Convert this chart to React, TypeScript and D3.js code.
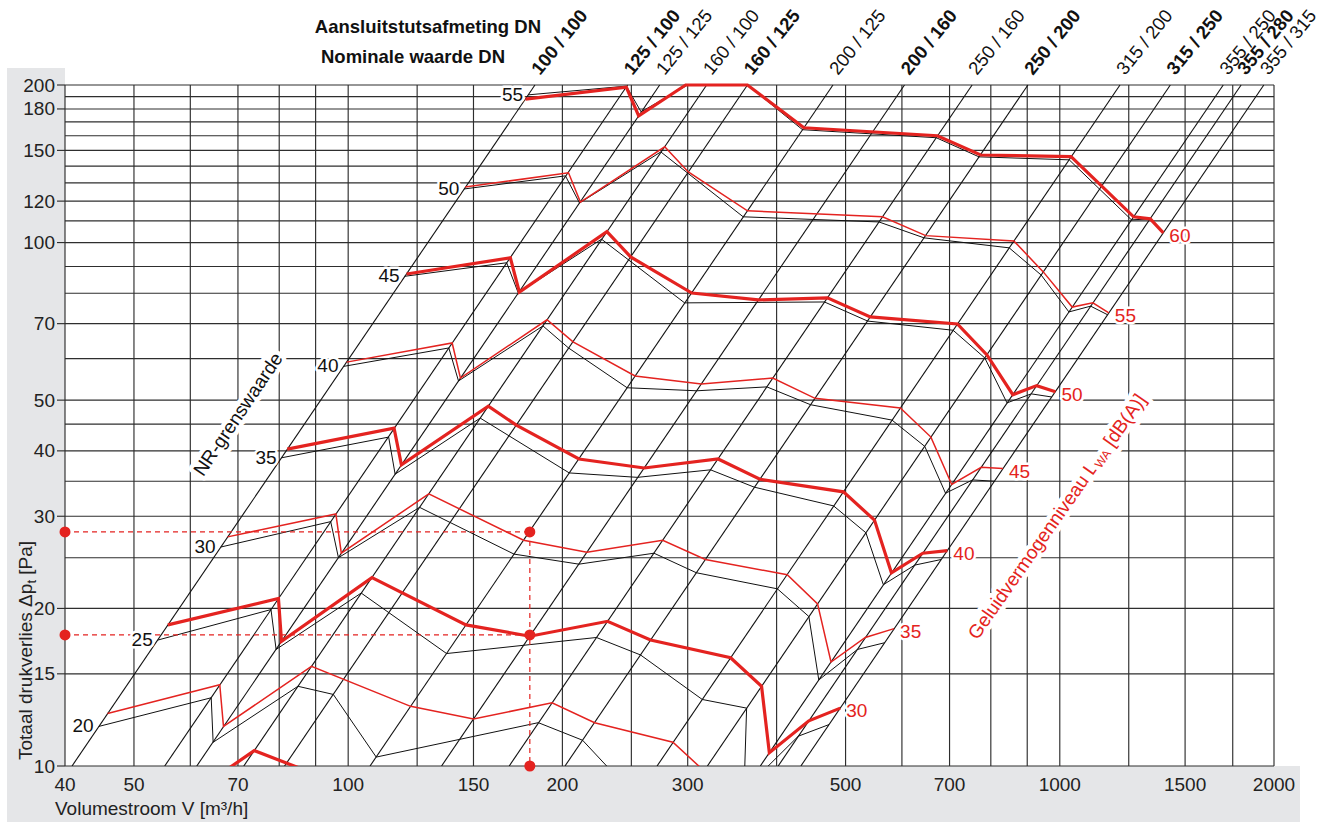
import React from "react";
import * as d3 from "d3";

const W = 1338;
const H = 823;
const FONT = "'Liberation Sans', Arial, Helvetica, sans-serif";
const RED = "#e42320";
const GRAY = "#e5e6e8";

// axis grid and tick labels
const xGrid = [40, 50, 60, 70, 80, 90, 100, 125, 150, 200, 250, 300, 400, 500, 600, 700, 800, 900, 1000, 1250, 1500, 1750, 2000];
const yGrid = [10, 15, 20, 25, 30, 35, 40, 45, 50, 60, 70, 80, 90, 100, 110, 120, 130, 140, 150, 160, 170, 180, 190, 200];
const xTickLabels = [40, 50, 70, 100, 150, 200, 300, 500, 700, 1000, 1500, 2000];
const yTickLabels = [10, 15, 20, 30, 40, 50, 70, 100, 120, 150, 180, 200];

// DN lines (dp ~ V^2): volume flow where each line reaches 200 Pa
const dnLineV200 = [183, 247, 274, 319, 364, 480, 605, 753, 902, 1215, 1430, 1697, 1798, 1935];
const dnLabels = ["100 / 100", "125 / 100", "125 / 125", "160 / 100", "160 / 125", "200 / 125", "200 / 160",
  "250 / 160", "250 / 200", "315 / 200", "315 / 250", "355 / 250", "355 / 280", "355 / 315"];
const dnBold = [true, true, false, false, true, false, true, false, true, false, true, false, true, false];

// sound curves: [V m³/h, dp Pa]; red = L_WA, black = NR
const nr55Red = [[177.5, 188], [246, 198], [256, 174.6], [298, 200], [364, 200], [437, 165.7], [673, 160], [774, 147], [1037, 146], [1270, 112], [1340, 111], [1398, 104.4]];
const nr55Black = [[179, 191.5], [246, 199], [258, 177.7], [300, 200], [364, 200], [435, 164.3], [670.5, 158.6], [770, 145.8], [1031, 143.9], [1261, 110.5], [1340, 111], [1401, 104.8]];
const nr50Red = [[146, 127.7], [204, 135.9], [212, 119.5], [278.5, 152.4], [300.6, 136.4], [364, 115], [563.5, 112], [648, 103.1], [862, 100.7], [948, 87.9], [1041, 75.3], [1113, 76.7], [1172, 73.4]];
const nr50Black = [[145.6, 126.6], [202, 134.1], [211.4, 119], [275, 149], [359, 112], [557, 109.5], [644.5, 102.1], [849, 97.7], [941.5, 86.7], [1030, 73.7], [1105, 75.6], [1167, 72.8]];
const nr45Red = [[120.8, 87.1], [169, 93.5], [174, 80.4], [231, 104.9], [249.4, 93.9], [304, 80.1], [377, 77.7], [471.5, 78.4], [541.6, 72.1], [718, 69.9], [790, 61], [859, 51.2], [928, 53.3], [986, 51.9]];
const nr45Black = [[120, 86.2], [167, 91.5], [173.4, 80.1], [227, 101.5], [297, 76.7], [467, 77], [537, 70.8], [708, 68], [784.5, 60.2], [843, 49.4], [912, 51.4], [974, 50.7]];
const nr40Red = [[99.5, 59.1], [140, 64.3], [143.8, 55.1], [190.3, 71.2], [207, 64.6], [253, 55.6], [313.5, 53.7], [395, 55.1], [453, 50.4], [597, 48.3], [659, 42.5], [705, 34.5], [775.5, 37.2], [832, 37]];
const nr40Black = [[98.5, 58], [138.5, 62.9], [142.9, 54.4], [187.8, 69.3], [204, 62.9], [246.6, 52.8], [309, 52.1], [387.6, 53], [446.5, 49], [581, 45.8], [646, 40.8], [691, 33.2], [754, 35.2], [809.5, 35]];
const nr35Red = [[82.1, 40.3], [116, 44.2], [118.8, 37.6], [157.4, 48.7], [172.3, 44.8], [211, 38.6], [260.6, 37.1], [331, 38.6], [379, 35.3], [496.5, 33.4], [549, 29.5], [580, 23.4], [642, 25.5], [695, 25.8]];
const nr35Black = [[80.6, 38.8], [114, 42.5], [116.4, 36.1], [153.3, 46.2], [204.5, 36.3], [255, 35.6], [323, 36.8], [372, 34.1], [481, 31.4], [534, 27.9], [565, 22.2], [625.5, 24.2], [681, 24.8]];
const nr30Red = [[67.7, 27.4], [96.1, 30.3], [97.8, 25.5], [129.8, 33.1], [176.4, 27], [216.5, 25.6], [276.7, 27], [317.6, 24.8], [414, 23.2], [456.7, 20.4], [477, 15.8], [533, 17.6], [585, 18.3]];
const nr30Black = [[66.2, 26.2], [94.5, 29.3], [96.9, 25], [126, 31.2], [171, 25.4], [211, 24.3], [269, 25.5], [308.5, 23.4], [401, 21.8], [444, 19.3], [458.5, 14.6], [519.6, 16.7], [567.5, 17.2]];
const nr25Red = [[55.8, 18.6], [79.8, 20.9], [80.6, 17.3], [108, 22.9], [146.4, 18.6], [180, 17.7], [231.5, 18.9], [266, 17.4], [344.7, 16.1], [381, 14.2], [390.7, 10.6], [444, 12.2], [491.5, 12.9]];
const nr25Black = [[54, 17.4], [77.9, 19.9], [79.2, 16.7], [104.3, 21.4], [137.5, 16.4], [223.3, 17.6], [257.5, 16.3], [314.5, 13.4], [363, 12.9], [360, 9], [429, 11.4], [474, 12]];
const nr20Red = [[45.9, 12.6], [66, 14.3], [66.8, 11.9], [88.8, 15.5], [122.4, 13], [150, 12.3], [193.4, 13.2], [222, 12.1], [286, 11.1], [316, 9.8]];
const nr20Black = [[44.6, 11.9], [64.2, 13.5], [64.6, 11.1], [85, 14.2], [95.3, 13.7], [109.5, 10.4], [185, 12.1], [213.5, 11.2], [254, 8.7]];
const nr15Red = [[65, 9.5], [73.8, 10.7], [91.3, 9.57]];

const curves = [
  { nr: "55", lwa: "60", thick: true, red: nr55Red, black: nr55Black },
  { nr: "50", lwa: "55", thick: false, red: nr50Red, black: nr50Black },
  { nr: "45", lwa: "50", thick: true, red: nr45Red, black: nr45Black },
  { nr: "40", lwa: "45", thick: false, red: nr40Red, black: nr40Black },
  { nr: "35", lwa: "40", thick: true, red: nr35Red, black: nr35Black },
  { nr: "30", lwa: "35", thick: false, red: nr30Red, black: nr30Black },
  { nr: "25", lwa: "30", thick: true, red: nr25Red, black: nr25Black },
  { nr: "20", lwa: "", thick: false, red: nr20Red, black: nr20Black },
  { nr: "", lwa: "", thick: true, red: nr15Red, black: [] as number[][] },
];

// reading example (dashed red)
const refV = 180;
const refDp = [28, 17.8];

// annotation anchors in data units
const nrTextAt = [70, 47];
const lwaTextAt = [990, 30];

export default function App() {
  const left = 65, right = 1274, top = 85, bottom = 766;
  const x = d3.scaleLog().domain([40, 2000]).range([left, right]);
  const y = d3.scaleLog().domain([10, 200]).range([bottom, top]);
  const line = d3.line<number[]>().x(d => x(d[0])).y(d => y(d[1]));

  const halo = (w: number) => ({ stroke: "#fff", strokeWidth: w, paintOrder: "stroke" as const, strokeLinejoin: "round" as const });

  const nrX = x(nrTextAt[0]), nrY = y(nrTextAt[1]);
  const lwX = x(lwaTextAt[0]), lwY = y(lwaTextAt[1]);

  return (
    <svg width={W} height={H} style={{ position: "absolute", left: 0, top: 0, fontFamily: FONT, background: "#fff" }}>
      <defs>
        <clipPath id="plot">
          <rect x={left} y={top - 4} width={right - left} height={bottom - top + 4} />
        </clipPath>
      </defs>

      {/* grey axis bands */}
      <rect x={7} y={68} width={left - 7} height={822 - 68} fill={GRAY} />
      <rect x={7} y={bottom} width={1300 - 7} height={822 - bottom} fill={GRAY} />

      {/* grid */}
      <g stroke="#2e2e2e" strokeWidth={1.15}>
        {yGrid.map(v => (
          <line key={"h" + v} x1={left} x2={right} y1={y(v)} y2={y(v)} />
        ))}
        {xGrid.map(v => (
          <line key={"v" + v} x1={x(v)} x2={x(v)} y1={top} y2={bottom} />
        ))}
        {yTickLabels.map(v => (
          <line key={"t" + v} x1={57} x2={left} y1={y(v)} y2={y(v)} />
        ))}
      </g>

      {/* DN lines */}
      <g clipPath="url(#plot)" stroke="#111" strokeWidth={1.1}>
        {dnLineV200.map((v, i) => (
          <line key={i} x1={x(v * Math.sqrt(10 / 200))} y1={y(10)} x2={x(v)} y2={y(200)} />
        ))}
      </g>

      {/* NR limit label */}
      <text x={nrX} y={nrY} fontSize={19} textAnchor="middle" dominantBaseline="central"
        transform={`rotate(-56 ${nrX} ${nrY})`} fill="#111" style={halo(9)}>NR-grenswaarde</text>

      {/* sound curves */}
      <g clipPath="url(#plot)" fill="none" strokeLinejoin="miter">
        {curves.map((c, i) => c.black.length ? (
          <path key={"b" + i} d={line(c.black) || ""} stroke="#111" strokeWidth={1} />
        ) : null)}
        {curves.map((c, i) => (
          <path key={"r" + i} d={line(c.red) || ""} stroke={RED} strokeWidth={c.thick ? 3.2 : 1.5} />
        ))}
      </g>

      {/* reading example */}
      <g stroke={RED} strokeWidth={1.2} strokeDasharray="5,4">
        {refDp.map(v => (
          <line key={v} x1={x(40)} x2={x(refV)} y1={y(v)} y2={y(v)} />
        ))}
        <line x1={x(refV)} x2={x(refV)} y1={y(refDp[0])} y2={y(10)} />
      </g>
      <g fill={RED}>
        {refDp.map(v => <circle key={"a" + v} cx={x(40)} cy={y(v)} r={5.5} />)}
        {refDp.map(v => <circle key={"b" + v} cx={x(refV)} cy={y(v)} r={5.5} />)}
        <circle cx={x(refV)} cy={y(10)} r={5.5} />
      </g>

      {/* curve labels */}
      <g fontSize={19}>
        {curves.filter(c => c.nr).map(c => {
          const p = c.black[0];
          return (
            <text key={"nr" + c.nr} x={x(p[0]) - 5} y={y(p[1]) + 6} textAnchor="end" fill="#111" style={halo(5)}>{c.nr}</text>
          );
        })}
        {curves.filter(c => c.lwa).map(c => {
          const p = c.red[c.red.length - 1];
          return (
            <text key={"lw" + c.lwa} x={x(p[0]) + 6} y={y(p[1]) + 9} fill={RED} style={halo(5)}>{c.lwa}</text>
          );
        })}
      </g>

      <text x={lwX} y={lwY} fontSize={19} textAnchor="middle" dominantBaseline="central"
        transform={`rotate(-55 ${lwX} ${lwY})`} fill={RED} style={halo(9)}>
        Geluidvermogenniveau L<tspan fontSize={12} dy={5}>WA</tspan><tspan dy={-5}> [dB(A)]</tspan>
      </text>

      {/* axes labels */}
      <g fontSize={19} fill="#222">
        {xTickLabels.map(v => (
          <text key={"xl" + v} x={x(v)} y={791} textAnchor="middle">{v}</text>
        ))}
        {yTickLabels.map(v => (
          <text key={"yl" + v} x={55} y={y(v) + 6.5} textAnchor="end">{v}</text>
        ))}
        <text x={55} y={815}>Volumestroom V [m³/h]</text>
        <text transform="translate(32,760) rotate(-90)">
          Totaal drukverlies Δp<tspan fontSize={13} dy={4}>t</tspan><tspan dy={-4}> [Pa]</tspan>
        </text>
      </g>

      {/* DN headings */}
      <g fontSize={18.5} fontWeight="bold" fill="#111" textAnchor="end">
        <text x={541} y={33}>Aansluitstutsafmeting DN</text>
        <text x={505} y={63}>Nominale waarde DN</text>
      </g>
      <g fontSize={18.5} fill="#111">
        {dnLineV200.map((v, i) => {
          const lx = x(v) + 5, ly = 76;
          return (
            <text key={"dn" + i} x={lx} y={ly} fontWeight={dnBold[i] ? "bold" : "normal"}
              transform={`rotate(-51 ${lx} ${ly})`}>{dnLabels[i]}</text>
          );
        })}
      </g>
    </svg>
  );
}
